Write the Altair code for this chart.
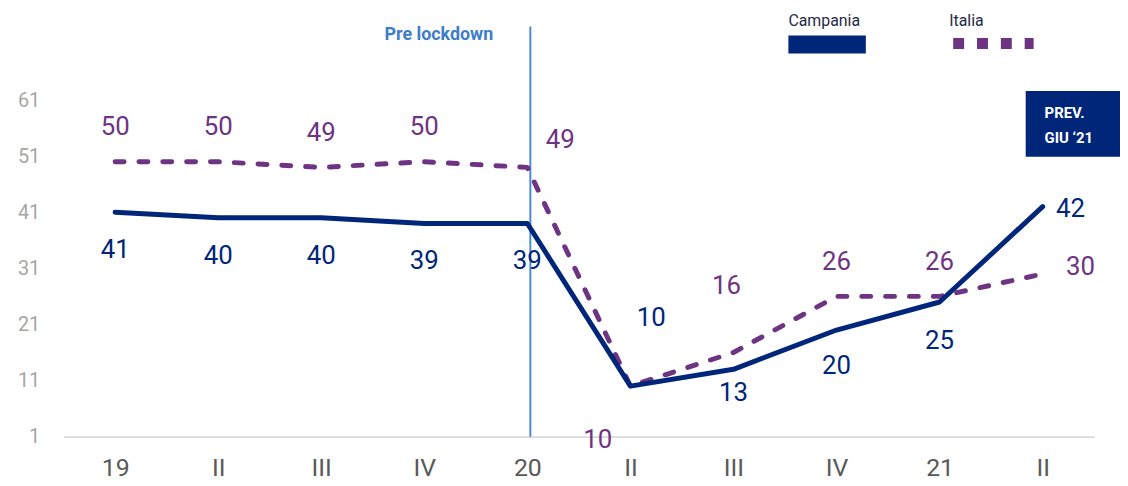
import altair as alt
import pandas as pd

# ---- data ----
periods = ["19", "II", "III", "IV", "20", "II", "III", "IV", "21", "II"]
campania = [41, 40, 40, 39, 39, 10, 13, 20, 25, 42]
italia = [50, 50, 49, 50, 49, 10, 16, 26, 26, 30]
y_ticks = [1, 11, 21, 31, 41, 51, 61]
lockdown_period = "20"

# label offsets (pixels) relative to each point
camp_dx = [0, 0, 0, 0, 0, 21, 0, 0, 0, 28]
camp_dy = [38, 38, 38, 38, 38, -69, 24, 36, 39, 2]
ital_dx = [0, 0, 0, 0, 33, -33, -7, 0, 0, 38]
ital_dy = [-35, -35, -35, -35, -28, 54, -67, -35, -35, -7]

keys = [f"{p}|{i}" for i, p in enumerate(periods)]
df = pd.DataFrame({"key": keys, "Campania": campania, "Italia": italia})

W, H = 1038, 339
NAVY = "#00267A"
PURPLE = "#6E3483"
BLUE = "#4A8AD4"
FONT = "Roboto"

xenc = alt.X("key:N", sort=keys, scale=alt.Scale(type="point", padding=0.5),
             axis=alt.Axis(title=None, labelExpr="split(datum.value,'|')[0]",
                           labelAngle=0, labelAlign="center", ticks=False, domainColor="#D9D9D9",
                           domainWidth=2, labelColor="#595959", labelFontSize=25,
                           labelPadding=31, labelFont=FONT, grid=False))
yscale = alt.Scale(domain=[1, 61], nice=False, zero=False)
yaxis = alt.Axis(title=None, values=y_ticks, ticks=False, domain=False, grid=False,
                 labelColor="#A6A6A6", labelFontSize=20, labelPadding=24, labelFont=FONT)

base = alt.Chart(df)

line_c = base.mark_line(color=NAVY, strokeWidth=5, strokeCap="round", strokeJoin="round").encode(
    x=xenc, y=alt.Y("Campania:Q", scale=yscale, axis=yaxis))
line_i = base.mark_line(color=PURPLE, strokeWidth=5, strokeCap="round",
                        strokeDash=[9, 15], strokeJoin="round").encode(
    x=alt.X("key:N", sort=keys), y=alt.Y("Italia:Q", scale=yscale))

rule = alt.Chart(pd.DataFrame({"key": [keys[periods.index(lockdown_period)]]})).mark_rule(
    color=BLUE, strokeWidth=2, xOffset=3).encode(
    x=alt.X("key:N", sort=keys), y=alt.value(-74), y2=alt.value(H))

layers = [rule, line_i, line_c]

for series, dxs, dys, col in [("Campania", camp_dx, camp_dy, NAVY), ("Italia", ital_dx, ital_dy, PURPLE)]:
    groups = {}
    for i, (dx, dy) in enumerate(zip(dxs, dys)):
        groups.setdefault((dx, dy), []).append(keys[i])
    for (dx, dy), ks in groups.items():
        layers.append(
            base.transform_filter(alt.FieldOneOfPredicate(field="key", oneOf=ks))
            .mark_text(color=col, fontSize=26, font=FONT, dx=dx, dy=dy, baseline="middle")
            .encode(x=alt.X("key:N", sort=keys), y=alt.Y(f"{series}:Q", scale=yscale),
                    text=alt.Text(f"{series}:Q"))
        )

one = pd.DataFrame({"a": [0]})
pre = alt.Chart(one).mark_text(text="Pre lockdown", color="#3D7DCA", fontSize=18, fontWeight="bold",
                               font=FONT, align="center", baseline="middle").encode(
    x=alt.value(378), y=alt.value(-65))

leg_c_txt = alt.Chart(one).mark_text(text="Campania", color="#1F2A44", fontSize=16, font=FONT,
                                     align="left", baseline="middle").encode(x=alt.value(730), y=alt.value(-80))
leg_c_rect = alt.Chart(one).mark_rect(color=NAVY).encode(
    x=alt.value(730), x2=alt.value(808), y=alt.value(-65), y2=alt.value(-47))
leg_i_txt = alt.Chart(one).mark_text(text="Italia", color="#1F2A44", fontSize=16, font=FONT,
                                     align="left", baseline="middle").encode(x=alt.value(892), y=alt.value(-80))
leg_i_line = alt.Chart(one).mark_rule(color=PURPLE, strokeWidth=11, strokeDash=[11, 13]).encode(
    x=alt.value(896), x2=alt.value(977), y=alt.value(-57))

box = alt.Chart(one).mark_rect(color=NAVY).encode(
    x=alt.value(969), x2=alt.value(1064), y=alt.value(-9), y2=alt.value(57))
box_t1 = alt.Chart(one).mark_text(text="PREV.", color="white", fontSize=15, fontWeight="bold", font=FONT,
                                  align="left", baseline="middle").encode(x=alt.value(988), y=alt.value(13))
box_t2 = alt.Chart(one).mark_text(text="GIU \u201821", color="white", fontSize=15, fontWeight="bold", font=FONT,
                                  align="left", baseline="middle").encode(x=alt.value(988), y=alt.value(38))

layers += [pre, leg_c_txt, leg_c_rect, leg_i_txt, leg_i_line, box, box_t1, box_t2]

chart = alt.layer(*layers).properties(
    width=W, height=H,
    autosize=alt.AutoSizeParams(type="none"),
    padding={"left": 56, "top": 91, "right": 26, "bottom": 46},
).configure(font=FONT).configure_view(strokeWidth=0, stroke="transparent")

chart.save("out.html", embed_options={"renderer": "svg", "actions": False})
